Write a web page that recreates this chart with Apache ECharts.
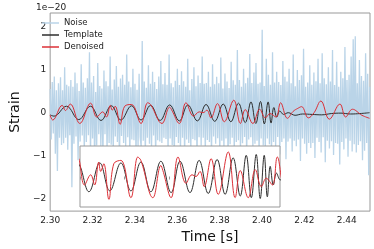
<!DOCTYPE html>
<html lang="en">
<head>
<meta charset="UTF-8">
<title>Denoised strain</title>
<script src="https://cdn.jsdelivr.net/npm/echarts@6/dist/echarts.min.js"></script>
<style>
  html, body { margin: 0; padding: 0; background: #fff; }
  #main { width: 374px; height: 249px; }
</style>
</head>
<body>
<div id="main"></div>
<script>
  // strain in units of 1e-20, time in s
  var noiseStart = 2.30;
  var noiseRate = 2048;
  var noise = [
    0.55,-0.62,0.71,-0.48,0.84,-0.95,0.52,-1.35,0.68,-0.58,
    0.82,-0.75,0.52,-0.71,1.05,-0.58,0.65,-0.86,0.61,-0.52,
    0.76,-1.73,0.60,-0.72,0.93,-0.55,0.68,-1.10,0.50,-0.67,
    1.12,-0.53,0.70,-0.90,0.58,-0.68,0.80,-0.52,1.40,-0.95,
    0.70,-0.60,0.85,-1.25,0.48,-0.76,1.15,-0.50,0.62,-0.78,
    0.56,-1.05,0.98,-0.50,0.73,-0.87,0.61,-0.70,1.30,-0.74,
    0.54,-0.92,0.77,-0.55,1.08,-0.68,0.60,-1.18,0.79,-0.54,
    0.88,-0.70,0.65,-0.80,1.35,-0.57,0.72,-0.98,0.59,-0.62,
    1.02,-0.64,0.67,-1.00,0.53,-0.79,0.90,-0.56,-0.80,1.66,
    -0.65,0.72,-0.95,0.58,-0.58,1.10,-0.72,0.67,-0.88,0.95,
    -0.53,0.71,-1.02,0.55,-0.64,0.84,-0.67,1.20,-0.70,0.66,
    -0.58,0.92,-0.61,0.65,-0.93,1.35,-0.60,0.68,-0.75,0.59,
    -1.05,0.74,-0.56,1.02,-0.70,0.64,-0.88,0.96,-0.58,0.73,
    -0.97,0.60,-0.62,1.25,-0.70,0.52,-0.85,0.78,-0.61,1.05,
    -0.64,0.61,-1.08,0.86,-0.57,0.69,-0.76,1.30,-0.58,0.67,
    -0.90,0.69,-0.63,0.95,-0.68,0.60,-1.00,1.12,-0.55,0.66,
    -0.72,0.83,-0.59,0.68,-0.95,1.28,-0.65,0.56,-0.82,0.91,
    -0.60,0.72,-1.05,0.57,-0.73,1.18,-0.58,0.75,-0.90,0.65,
    -0.68,1.45,-0.64,0.76,-0.85,0.60,-0.71,1.02,-0.56,0.68,
    -0.99,0.81,-0.62,1.36,-0.57,0.69,-0.80,0.93,-0.72,1.15,
    -0.65,0.67,-0.95,0.70,-0.60,1.92,-0.76,0.62,-0.88,1.25,
    -0.60,0.88,-0.73,0.65,-1.02,1.40,-0.68,0.70,-0.80,0.95,
    -0.56,0.71,-0.97,0.64,-0.68,1.20,-0.60,0.83,-1.08,0.72,
    -0.67,1.02,-0.60,0.68,-0.90,1.35,-0.65,0.61,-0.78,0.99,
    -0.62,0.76,-1.12,0.87,-0.60,1.48,-0.72,0.60,-0.95,0.70,
    -0.70,1.10,-0.82,0.65,-0.70,0.93,-1.05,0.73,-0.58,1.25,
    -0.68,0.68,-0.92,1.38,-0.57,0.80,-1.15,0.66,-0.65,1.05,
    -0.83,0.72,-0.66,1.45,-0.98,0.64,-0.70,1.18,-0.72,0.60,
    -1.20,0.95,-0.68,0.80,-0.85,1.52,-0.60,0.76,-1.02,0.88,
    -0.65,1.30,-0.90,1.70,-0.73,1.77,-0.92,0.68,-0.75,1.22,
    -0.66,0.85,-1.10,0.74,-0.88,1.38,-0.70,0.90,-1.45,0.60
  ];

  // template: turning points
  var templateT = [2.3000,2.3018,2.3077,2.3135,2.3190,2.3240,2.3289,2.3334,2.3384,2.3429,
    2.3474,2.3519,2.3564,2.3610,2.3650,2.3695,2.3736,2.3777,2.3817,2.3853,
    2.3889,2.3921,2.3948,2.3971,2.3993,2.4011,2.4029,2.4043,2.4056,2.4070,
    2.4084,2.4102,2.4124,2.4156,2.4192,2.4237,2.4282,2.4327,2.4373,2.4418,2.4463,2.4508];
  var templateV = [-0.05,-0.08,0.15,-0.16,0.15,-0.18,0.16,-0.17,0.16,-0.17,
    0.17,-0.18,0.18,-0.19,0.18,-0.19,0.19,-0.20,0.20,-0.21,
    0.22,-0.23,0.25,-0.25,0.26,-0.26,0.25,-0.24,0.12,-0.10,
    0.04,-0.04,0.00,-0.06,-0.03,-0.04,-0.05,-0.02,-0.01,-0.03,-0.02,0.00];

  var denoisedT = [2.3000,2.3012,2.3057,2.3072,2.3095,2.3140,2.3191,2.3220,2.3248,2.3266,
    2.3284,2.3293,2.3307,2.3330,2.3352,2.3384,2.3429,2.3460,2.3474,2.3528,
    2.3564,2.3573,2.3610,2.3641,2.3677,2.3704,2.3722,2.3740,2.3759,2.3790,
    2.3822,2.3867,2.3898,2.3921,2.3957,2.3989,2.4016,2.4038,2.4066,2.4088,
    2.4120,2.4147,2.4169,2.4187,2.4219,2.4246,2.4278,2.4318,2.4368,2.4395,
    2.4427,2.4472,2.4508];
  var denoisedV = [-0.06,-0.17,0.17,0.05,0.20,-0.25,0.22,-0.10,0.02,-0.10,
    0.17,0.06,0.15,-0.27,0.15,0.19,-0.25,0.23,0.19,-0.25,
    0.13,0.07,-0.25,0.23,-0.08,0.02,0.00,0.06,-0.12,0.21,
    -0.21,0.29,-0.25,0.07,-0.25,0.08,-0.12,-0.02,-0.10,0.23,
    -0.13,0.03,0.10,0.14,-0.12,0.00,0.27,-0.15,0.20,-0.10,
    0.08,-0.06,-0.13];

  var xTicks = [2.30, 2.32, 2.34, 2.36, 2.38, 2.40, 2.42, 2.44];
  var yTicks = [-2, -1, 0, 1, 2];
  var insetTicks = [2.32, 2.34, 2.36, 2.38, 2.40];

  function pairs(ts, vs) {
    return ts.map(function (t, i) { return [t, vs[i]]; });
  }
  var noiseData = noise.map(function (v, i) { return [noiseStart + i / noiseRate, v]; });
  var templateData = pairs(templateT, templateV);
  var denoisedData = pairs(denoisedT, denoisedV);

  var FONT = 'DejaVu Sans';
  var noiseColor = '#bad4e8';
  var templateColor = '#2e2e2e';
  var denoisedColor = '#dc3037';

  var chart = echarts.init(document.getElementById('main'), null, { renderer: 'canvas' });
  chart.setOption({
    animation: false,
    backgroundColor: '#fff',
    textStyle: { fontFamily: FONT },
    graphic: [{
      type: 'text', left: 36, top: 3,
      style: { text: '1e\u221220', font: '9px "DejaVu Sans"', fill: '#222' }
    }],
    legend: {
      orient: 'vertical', left: 42, top: 17, padding: 0,
      icon: 'rect', itemWidth: 17, itemHeight: 1.5, itemGap: 0,
      textStyle: { fontSize: 8.5, color: '#222', lineHeight: 12, fontFamily: FONT },
      data: ['Noise', 'Template', 'Denoised']
    },
    grid: [
      { left: 36, top: 13, right: 4, bottom: 32, show: true, borderColor: '#999', borderWidth: 1, containLabel: false },
      { left: 80, top: 146, width: 200, height: 61, show: true, backgroundColor: '#fff', borderColor: '#999', borderWidth: 1, z: 10 }
    ],
    xAxis: [
      {
        gridIndex: 0, type: 'value', min: 2.30, max: 2.451,
        name: 'Time [s]', nameLocation: 'middle', nameGap: 13,
        nameTextStyle: { fontSize: 14, color: '#111', fontFamily: FONT },
        axisLine: { show: false }, splitLine: { show: false },
        axisTick: { show: false },
        axisLabel: {
          customValues: xTicks, margin: 5, fontSize: 9, color: '#222', fontFamily: FONT,
          formatter: function (v) { return v.toFixed(2); }
        }
      },
      {
        gridIndex: 1, type: 'value', min: 2.32, max: 2.41, z: 11,
        axisLine: { show: false }, splitLine: { show: false },
        axisTick: { show: true, customValues: insetTicks, length: 3, lineStyle: { color: '#999' } },
        axisLabel: { show: false }
      }
    ],
    yAxis: [
      {
        gridIndex: 0, type: 'value', min: -2.28, max: 2.31,
        name: 'Strain', nameLocation: 'middle', nameGap: 24,
        nameTextStyle: { fontSize: 14, color: '#111', fontFamily: FONT },
        axisLine: { show: false }, splitLine: { show: false },
        axisTick: { show: false },
        axisLabel: {
          customValues: yTicks, margin: 4, fontSize: 9, color: '#222', fontFamily: FONT,
          formatter: function (v) { return v < 0 ? '\u2212' + Math.abs(v) : String(v); }
        }
      },
      {
        gridIndex: 1, type: 'value', min: -0.36, max: 0.36, z: 11,
        axisLine: { show: false }, splitLine: { show: false },
        axisTick: { show: false }, axisLabel: { show: false }
      }
    ],
    series: [
      {
        name: 'Noise', type: 'line', xAxisIndex: 0, yAxisIndex: 0, data: noiseData,
        showSymbol: false, lineStyle: { color: noiseColor, width: 1.3 }, itemStyle: { color: noiseColor }, z: 2
      },
      {
        name: 'Template', type: 'line', xAxisIndex: 0, yAxisIndex: 0, data: templateData,
        smooth: 0.4, showSymbol: false, lineStyle: { color: templateColor, width: 1 }, itemStyle: { color: templateColor }, z: 3
      },
      {
        name: 'Denoised', type: 'line', xAxisIndex: 0, yAxisIndex: 0, data: denoisedData,
        smooth: 0.4, showSymbol: false, lineStyle: { color: denoisedColor, width: 1 }, itemStyle: { color: denoisedColor }, z: 4
      },
      {
        name: 'Template', type: 'line', xAxisIndex: 1, yAxisIndex: 1, data: templateData,
        smooth: 0.4, showSymbol: false, lineStyle: { color: templateColor, width: 1 }, itemStyle: { color: templateColor }, z: 12
      },
      {
        name: 'Denoised', type: 'line', xAxisIndex: 1, yAxisIndex: 1, data: denoisedData,
        smooth: 0.4, showSymbol: false, lineStyle: { color: denoisedColor, width: 1 }, itemStyle: { color: denoisedColor }, z: 13
      }
    ]
  });
</script>
</body>
</html>
